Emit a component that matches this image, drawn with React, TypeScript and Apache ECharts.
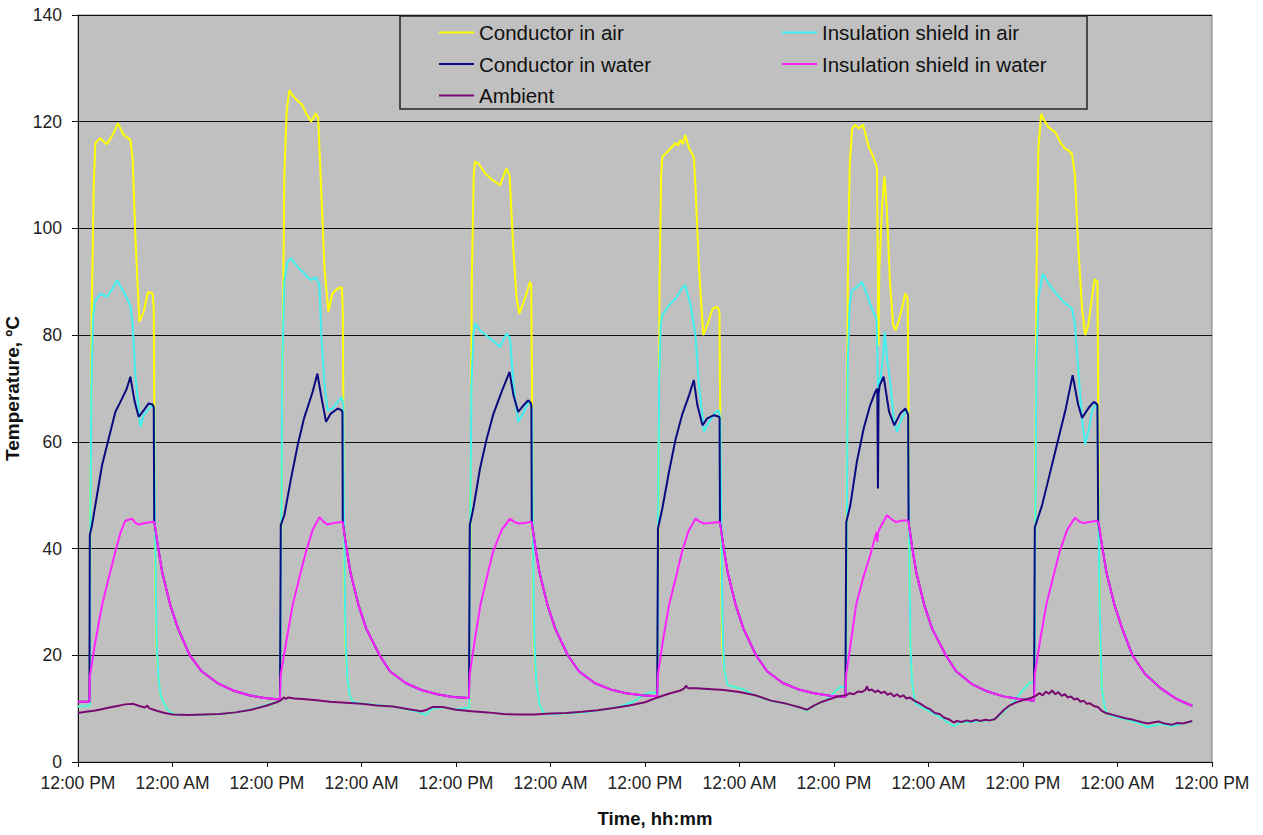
import React, { useEffect, useRef } from "react";
import * as echarts from "echarts";

// Hours since the first 12:00 PM ; temperature in °C
const xTickLabels = [
  "12:00 PM", "12:00 AM", "12:00 PM", "12:00 AM", "12:00 PM", "12:00 AM", "12:00 PM",
  "12:00 AM", "12:00 PM", "12:00 AM", "12:00 PM", "12:00 AM", "12:00 PM",
];

const seriesNames = [
  "Conductor in air",
  "Insulation shield in air",
  "Conductor in water",
  "Insulation shield in water",
  "Ambient",
];

// Low (unloaded) parts where the two "in air" traces coincide
const airLow: number[][][] = [
  [[0, 10.4], [0.8, 10.5], [1.5, 10.6]],
  [[10.2, 16], [10.5, 12.5], [10.9, 11], [11.4, 9.8], [12, 9.0], [13, 8.8], [15, 8.8], [17, 8.9], [19, 9.1], [20.5, 9.4], [22, 9.9], [23.5, 10.5], [24.8, 11.1], [25.7, 11.5]],
  [[34.2, 16], [34.5, 12.5], [34.9, 11.3], [36, 11.0], [38, 10.7], [40, 10.4], [42, 9.8], [43.4, 9.3], [44.2, 8.8], [44.9, 10.0], [46.3, 10.2], [48, 9.9], [49.7, 10.2]],
  [[58.2, 15], [58.6, 10.8], [59.2, 9.1], [61, 9.0], [63, 9.2], [65, 9.4], [67, 9.9], [69, 10.5], [70.5, 11.3], [71.5, 12.3], [72.5, 13], [73.3, 13], [73.6, 12.6]],
  [[82.1, 17], [82.5, 14.4], [83.5, 14], [84.5, 13.6], [85.6, 12.7], [87, 11.9], [88.5, 11.3], [90, 10.9], [91.5, 10.3], [92.6, 9.6], [93.3, 10.4], [94.2, 11.1], [95.2, 11.8], [96, 13], [96.8, 14.1], [97.4, 14], [97.55, 13.2]],
  [[105.9, 15], [106.3, 11], [107, 10.4], [108, 9.6], [109, 8.8], [110, 7.9], [111.2, 6.7], [112, 7.4], [113.5, 7.5], [115, 7.7], [116.2, 7.9], [117, 8.7], [118, 10.1], [119, 11.6], [120, 13.5], [120.8, 14.8], [121.3, 15], [121.5, 14.5]],
  [[130.0, 14], [130.4, 10], [130.8, 8.9], [132, 8.4], [133.5, 7.8], [135, 7.1], [135.8, 6.5], [136.5, 6.8], [137.5, 7.1], [138.9, 6.7], [140, 7.1], [141.5, 7.6]],
];

const condAirHeat: number[][][] = [
  [[1.55, 40], [1.75, 85], [2.0, 108], [2.2, 116], [2.84, 116.9], [3.3, 116.2], [3.68, 115.8], [4.4, 117.5], [5.08, 119.7], [5.8, 117.5], [6.65, 116.6], [6.94, 113], [7.28, 98.7], [7.79, 82.5], [8.34, 84.4], [8.89, 88.1], [9.48, 87.8], [9.62, 85], [9.72, 60], [9.82, 35], [9.95, 22]],
  [[25.8, 40], [25.95, 70], [26.2, 110], [26.5, 122], [26.84, 125.9], [27.2, 125], [27.7, 124.2], [28.5, 123.1], [28.95, 121.6], [29.6, 120], [30.0, 121], [30.2, 121.6], [30.5, 120.6], [30.86, 108], [31.3, 92.5], [31.8, 84.4], [32.3, 87.8], [32.98, 88.75], [33.5, 89], [33.62, 85], [33.72, 60], [33.82, 35], [33.95, 22]],
  [[49.85, 45], [50.0, 90], [50.25, 110], [50.4, 112.5], [50.84, 112.2], [51.7, 110.3], [52.7, 109], [53.6, 108.1], [54.4, 111.25], [54.8, 110], [55.3, 95.6], [55.7, 86.9], [56.04, 84], [56.76, 86.9], [57.4, 90], [57.55, 89.4], [57.65, 70], [57.75, 40], [57.9, 22]],
  [[73.7, 45], [73.85, 90], [74.05, 110], [74.2, 113.4], [75.05, 114.7], [75.9, 116], [76.2, 115.5], [76.5, 116.6], [76.8, 115.8], [77.1, 117.5], [77.6, 115], [78.2, 113.4], [78.4, 108], [78.86, 92.5], [79.4, 80], [79.9, 81.9], [80.6, 85], [81.2, 85.3], [81.45, 84.4], [81.55, 65], [81.65, 40], [81.8, 22]],
  [[97.6, 45], [97.75, 90], [98.0, 112], [98.3, 118.75], [98.7, 119.4], [99.13, 118.75], [99.7, 119.4], [100.4, 115.3], [101.0, 113.4], [101.46, 111.25], [101.55, 95], [101.65, 78], [101.75, 92], [102.1, 104], [102.4, 109.7], [102.7, 104], [103.1, 90], [103.5, 82], [103.8, 80.9], [104.3, 83], [105.06, 87.8], [105.35, 86.9], [105.45, 70], [105.55, 40], [105.7, 22]],
  [[121.55, 45], [121.7, 90], [121.95, 115], [122.3, 121.5], [122.6, 120.5], [123.2, 119], [124.1, 118], [124.8, 116], [125.3, 115], [125.8, 114.6], [126.2, 114], [126.6, 110], [127.0, 97], [127.5, 85], [127.9, 80], [128.3, 82], [128.8, 87.5], [129.1, 90.5], [129.45, 90], [129.55, 70], [129.65, 40], [129.8, 22]],
];

const shieldAirHeat: number[][][] = [
  [[1.55, 40], [1.7, 70], [1.9, 83], [2.1, 86.2], [2.84, 87.8], [3.68, 87.2], [4.3, 88.5], [4.95, 90.3], [5.8, 88.1], [6.65, 85.6], [6.94, 81.9], [7.28, 72.5], [7.92, 62.8], [8.34, 65], [8.97, 66.2], [9.48, 66.9], [9.68, 66], [9.78, 45], [9.9, 30], [10.0, 22]],
  [[25.8, 40], [25.95, 75], [26.2, 90], [26.6, 93.75], [27.05, 94.4], [27.9, 92.8], [28.7, 91.6], [29.6, 90.3], [30.2, 90.9], [30.65, 89.4], [30.9, 80], [31.3, 70.6], [31.7, 65.9], [32.3, 66.25], [32.98, 67.5], [33.5, 68.4], [33.68, 67], [33.78, 45], [33.9, 30], [34.0, 22]],
  [[49.8, 40], [49.95, 70], [50.2, 80], [50.4, 82.2], [51.05, 80.9], [52.3, 79.4], [53.6, 77.8], [54.4, 80.3], [54.86, 79.4], [55.3, 70.6], [55.9, 63.75], [56.6, 65.6], [57.2, 67.5], [57.5, 67.2], [57.65, 66], [57.75, 45], [57.87, 30], [57.97, 22]],
  [[73.65, 40], [73.8, 72], [74.0, 82], [74.2, 83.75], [75.05, 85.6], [75.9, 86.9], [76.7, 88.75], [77.1, 89.4], [77.8, 85.6], [78.4, 80], [78.86, 70.6], [79.5, 61.9], [80.1, 63.75], [81.0, 65.6], [81.4, 65.9], [81.58, 64], [81.68, 45], [81.8, 30], [81.9, 22]],
  [[97.6, 40], [97.75, 75], [98.0, 86], [98.3, 88.4], [98.9, 89], [99.55, 90], [100.2, 87.5], [100.8, 85], [101.4, 83.1], [101.5, 77], [101.6, 68.5], [101.7, 70], [102.1, 74], [102.45, 80.6], [102.7, 76], [103.07, 71.9], [103.6, 64.4], [104.0, 61.9], [104.6, 64.4], [105.2, 65.9], [105.4, 65.5], [105.5, 50], [105.6, 35], [105.7, 22]],
  [[121.55, 40], [121.7, 75], [121.95, 87], [122.5, 91.5], [123.3, 89.5], [124.1, 88], [125.3, 86], [126.2, 85], [126.6, 82], [127.0, 74], [127.5, 64], [127.9, 59.5], [128.3, 62], [128.8, 66], [129.2, 67], [129.45, 66.5], [129.6, 45], [129.72, 30], [129.85, 22]],
];

const waterStart: number[][] = [[0, 11.3], [1.45, 11.3]];

const condWaterHeat: number[][][] = [
  [[1.5, 42.5], [1.78, 44.4], [2.41, 50], [3.05, 55.6], [3.89, 60.6], [4.74, 65.6], [5.59, 68.1], [6.2, 70], [6.65, 72.2], [7.2, 67.5], [7.7, 64.7], [8.34, 65.9], [8.97, 67.2], [9.48, 67], [9.62, 66.5], [9.68, 45]],
  [[25.75, 44.4], [26.2, 46.25], [27.05, 53.1], [27.9, 59.4], [28.7, 64.4], [29.8, 69.4], [30.4, 72.8], [30.86, 68.75], [31.5, 63.75], [32.1, 65.3], [32.98, 66.25], [33.5, 65.9], [33.58, 65.5], [33.62, 45]],
  [[49.75, 44.4], [50.2, 47.5], [51.05, 55], [51.9, 60.6], [52.7, 65], [53.8, 69.4], [54.8, 73.1], [55.3, 68.75], [55.9, 65.6], [56.6, 66.9], [57.2, 67.8], [57.5, 67.2], [57.57, 66.8], [57.62, 45]],
  [[73.65, 43.75], [74.2, 47.5], [75.05, 54.4], [75.9, 60.6], [76.7, 65], [77.6, 68.75], [78.2, 71.6], [78.65, 66.9], [79.3, 63.1], [79.9, 64.4], [80.76, 65], [81.4, 64.7], [81.47, 64.5], [81.52, 45]],
  [[97.56, 45], [98.07, 48.1], [98.9, 56.25], [99.77, 62.5], [100.6, 66.9], [101.25, 69.4], [101.5, 70], [101.58, 51.25], [101.66, 69], [101.8, 70.6], [102.3, 72.2], [103.0, 65.6], [103.66, 63.1], [104.4, 65.3], [105.06, 66.25], [105.35, 65.3], [105.42, 65], [105.47, 45]],
  [[121.5, 44], [122.4, 48], [123.4, 54], [124.4, 60], [125.4, 66], [126.3, 72.5], [127.0, 67], [127.5, 64.5], [128.4, 66.5], [129.0, 67.5], [129.45, 67], [129.55, 45]],
];

const shieldWaterHeat: number[][][] = [
  [[1.5, 16], [2.2, 22.5], [3.05, 29.4], [3.9, 34.5], [4.74, 39.4], [5.4, 43], [6.0, 45.2], [6.86, 45.6], [7.3, 44.8], [7.7, 44.5], [8.5, 44.8], [9.4, 45]],
  [[25.75, 16.5], [26.5, 23], [27.26, 29.4], [28.1, 34.5], [28.95, 39.4], [29.8, 43.5], [30.65, 45.9], [31.2, 45], [31.7, 44.5], [32.5, 44.8], [33.4, 45]],
  [[49.75, 16.5], [50.4, 23], [51.1, 29.4], [51.9, 34.5], [52.7, 39.4], [53.8, 43.5], [54.86, 45.6], [55.4, 45], [55.9, 44.7], [56.7, 44.8], [57.4, 45]],
  [[73.65, 16.5], [74.3, 23], [75.05, 29.4], [75.9, 34.5], [76.7, 39.4], [77.5, 43.2], [78.4, 45.6], [79.0, 45], [79.5, 44.7], [80.4, 44.8], [81.4, 45]],
  [[97.56, 16.5], [98.2, 23], [98.8, 29.4], [99.7, 34.5], [100.6, 38.75], [101.4, 43.1], [101.5, 41.25], [101.6, 43], [101.8, 43.75], [102.73, 46.25], [103.3, 45.5], [103.8, 45], [104.6, 45.2], [105.3, 45.3]],
  [[121.5, 16.5], [122.2, 23], [122.95, 29.4], [123.8, 34.5], [124.65, 39.4], [125.6, 43.5], [126.6, 45.8], [127.2, 45], [127.7, 44.8], [128.5, 45], [129.3, 45.2]],
];

// Cool-down parts where the two "in water" traces coincide
const waterCooling: number[][][] = [
  [[9.7, 45], [10.2, 40], [10.7, 35.5], [11.7, 29.5], [12.7, 25], [14.2, 20], [15.7, 17], [17.7, 14.8], [19.7, 13.4], [21.7, 12.5], [23.7, 12], [25.65, 11.7]],
  [[33.6, 45], [34.1, 40], [34.6, 35.5], [35.6, 29.5], [36.6, 25], [38.3, 20], [39.6, 17], [41.6, 14.8], [43.6, 13.5], [45.6, 12.7], [47.6, 12.2], [49.65, 12]],
  [[57.6, 45], [58.1, 40], [58.6, 35.5], [59.6, 29.5], [60.6, 25], [62.2, 20], [63.6, 17], [65.6, 14.8], [67.6, 13.6], [69.6, 12.9], [71.6, 12.5], [73.55, 12.3]],
  [[81.5, 45], [82, 40], [82.5, 35.5], [83.5, 29.5], [84.5, 25], [86.1, 20], [87.5, 17], [89.5, 14.8], [91.5, 13.6], [93.5, 12.9], [95.5, 12.4], [97.45, 12.2]],
  [[105.45, 45], [105.95, 40], [106.45, 35.5], [107.45, 29.5], [108.45, 25], [110.2, 20], [111.5, 17], [113.5, 14.6], [115.5, 13.2], [117.5, 12.3], [119.5, 11.8], [121.4, 11.5]],
  [[129.6, 45], [130.1, 40], [130.6, 35.5], [131.6, 29.5], [132.6, 25], [133.9, 20], [135.5, 16.5], [137.5, 13.8], [139.5, 11.8], [141.5, 10.5]],
];

const ambient: number[][] = [
  [0, 9.2], [1, 9.4], [2, 9.6], [3, 9.9], [4, 10.2], [5, 10.5], [6, 10.8], [7, 10.9], [7.8, 10.5], [8.5, 10.2], [8.8, 10.6], [9, 10.1], [10, 9.6], [11, 9.2], [12, 8.9], [14, 8.8], [16, 8.9], [18, 9.0], [20, 9.3], [22, 9.8], [24, 10.6], [25.4, 11.3], [25.8, 11.6], [26.1, 12.1], [26.4, 11.8], [26.7, 12.1], [27.5, 11.9], [28.5, 11.8], [30, 11.6], [32, 11.3], [34, 11.1], [36, 10.9], [38, 10.6], [40, 10.4], [42, 9.9], [43.6, 9.5], [44.3, 9.8], [45, 10.3], [46.3, 10.3], [48, 9.8], [50, 9.5], [52, 9.3], [54, 9.0], [56, 8.9], [58, 8.9], [60, 9.1], [62, 9.2], [64, 9.4], [66, 9.7], [68, 10.1], [70, 10.6], [72, 11.2], [73.6, 12.1], [75, 12.8], [76.5, 13.4], [77, 13.8], [77.2, 14.3], [77.5, 13.8], [78.5, 13.8], [80, 13.7], [82, 13.5], [84, 13.1], [86, 12.5], [88, 11.5], [90, 10.9], [91.5, 10.3], [92.6, 9.8], [93.5, 10.6], [94.5, 11.3], [95.5, 11.8], [96.5, 12.3], [97.5, 12.5], [98, 12.9], [98.5, 12.7], [99, 13.2], [99.5, 13.1], [100, 13.5], [100.2, 14.2], [100.4, 13.4], [100.8, 13.6], [101.2, 13.1], [101.6, 13.4], [102, 12.9], [102.4, 13.2], [102.8, 12.6], [103.2, 12.9], [103.6, 12.3], [104, 12.7], [104.4, 12.2], [104.8, 12.5], [105.2, 11.9], [105.6, 12.1], [106.2, 11.5], [107, 10.9], [107.6, 10.3], [108.2, 9.9], [108.8, 9.2], [109.4, 9.0], [110, 8.3], [110.6, 8.0], [111.2, 7.4], [111.6, 7.7], [112.2, 7.5], [112.8, 7.8], [113.4, 7.6], [114, 7.9], [114.6, 7.7], [115.2, 7.9], [115.8, 7.8], [116.4, 8.0], [117, 8.9], [117.6, 9.8], [118.2, 10.5], [119, 11.1], [120, 11.6], [121, 12.0], [121.6, 12.4], [122.1, 12.9], [122.5, 12.5], [122.9, 13.2], [123.3, 12.8], [123.7, 13.4], [124.1, 12.7], [124.5, 13.1], [124.9, 12.4], [125.3, 12.7], [125.7, 12.1], [126.1, 12.3], [126.5, 11.7], [126.9, 11.9], [127.3, 11.3], [127.7, 11.5], [128.1, 10.9], [128.5, 11.0], [129, 10.5], [129.5, 10.3], [130, 9.6], [130.5, 9.2], [131, 9.0], [132, 8.6], [133, 8.2], [134, 7.9], [135, 7.5], [135.8, 7.2], [136.5, 7.4], [137.2, 7.6], [138, 7.2], [138.9, 7.0], [139.6, 7.3], [140.3, 7.2], [141, 7.5], [141.5, 7.7],
];

const colors = ["#FFFF00", "#40F0F0", "#0A0A80", "#FF22FF", "#7A0A72"];

function joinAir(heat: number[][][]): number[][] {
  const out: number[][] = [...airLow[0]];
  heat.forEach((day, i) => {
    out.push(...day, ...airLow[i + 1]);
  });
  return out;
}

function joinWater(heat: number[][][]): number[][] {
  const out: number[][] = [...waterStart];
  heat.forEach((day, i) => {
    out.push(...day, ...waterCooling[i]);
  });
  return out;
}

const FONT = "'Liberation Sans', Arial, sans-serif";

export default function App() {
  const ref = useRef<HTMLDivElement>(null);
  useEffect(() => {
    if (!ref.current) return;
    const chart = echarts.init(ref.current, undefined, { renderer: "svg" });
    const seriesData = [
      joinAir(condAirHeat),
      joinAir(shieldAirHeat),
      joinWater(condWaterHeat),
      joinWater(shieldWaterHeat),
      ambient,
    ];
    const legendText = { fontFamily: FONT, fontSize: 20.5, color: "#111", lineHeight: 20 };
    chart.setOption({
      animation: false,
      backgroundColor: "#ffffff",
      textStyle: { fontFamily: FONT },
      grid: {
        left: 78,
        right: 51,
        top: 15,
        bottom: 73,
        containLabel: false,
        outerBoundsMode: "none",
        show: true,
        backgroundColor: "#C0C0C0",
        borderColor: "#808080",
        borderWidth: 1,
      },
      legend: [
        {
          data: [seriesNames[0], seriesNames[2], seriesNames[4]],
          orient: "vertical",
          left: 434,
          top: 17,
          itemWidth: 35,
          itemHeight: 2,
          itemGap: 10.5,
          icon: "rect",
          selectedMode: false,
          textStyle: legendText,
        },
        {
          data: [seriesNames[1], seriesNames[3]],
          orient: "vertical",
          left: 777,
          top: 17,
          itemWidth: 35,
          itemHeight: 2,
          itemGap: 10.5,
          icon: "rect",
          selectedMode: false,
          textStyle: legendText,
        },
      ],
      graphic: [
        {
          type: "rect",
          shape: { x: 400, y: 16, width: 687, height: 93 },
          style: { fill: "none", stroke: "#222", lineWidth: 1.5 },
          z: 100,
        },
      ],
      xAxis: {
        type: "value",
        min: 0,
        max: 144,
        interval: 12,
        name: "Time, hh:mm",
        nameLocation: "middle",
        nameGap: 47,
        nameTextStyle: { fontFamily: FONT, fontSize: 18.5, fontWeight: "bold", color: "#111", padding: [0, 0, 0, 20] },
        axisLine: { show: true, onZero: false, lineStyle: { color: "#111", width: 1 } },
        axisTick: { show: true, length: 5, lineStyle: { color: "#111" } },
        axisLabel: {
          fontFamily: FONT,
          fontSize: 17.5,
          color: "#222",
          margin: 12,
          formatter: (v: number) => xTickLabels[Math.round(v / 12)] ?? "",
        },
        splitLine: { show: false },
      },
      yAxis: {
        type: "value",
        min: 0,
        max: 140,
        interval: 20,
        name: "Temperature, ºC",
        nameLocation: "middle",
        nameGap: 46,
        nameRotate: 90,
        nameTextStyle: { fontFamily: FONT, fontSize: 19, fontWeight: "bold", color: "#111" },
        axisLine: { show: true, lineStyle: { color: "#111", width: 1 } },
        axisTick: { show: true, length: 6, lineStyle: { color: "#111" } },
        axisLabel: { fontFamily: FONT, fontSize: 17.5, color: "#222", margin: 16 },
        splitLine: { show: true, lineStyle: { color: "#111", width: 1 } },
      },
      series: seriesData.map((data, i) => ({
        name: seriesNames[i],
        type: "line",
        data,
        color: colors[i],
        showSymbol: false,
        symbol: "none",
        lineStyle: { color: colors[i], width: 2 },
        itemStyle: { color: colors[i] },
        z: 2 + i,
      })),
    });
    return () => chart.dispose();
  }, []);
  return (
    <div
      ref={ref}
      style={{ position: "absolute", left: 0, top: 0, width: 1263, height: 835 }}
    />
  );
}
